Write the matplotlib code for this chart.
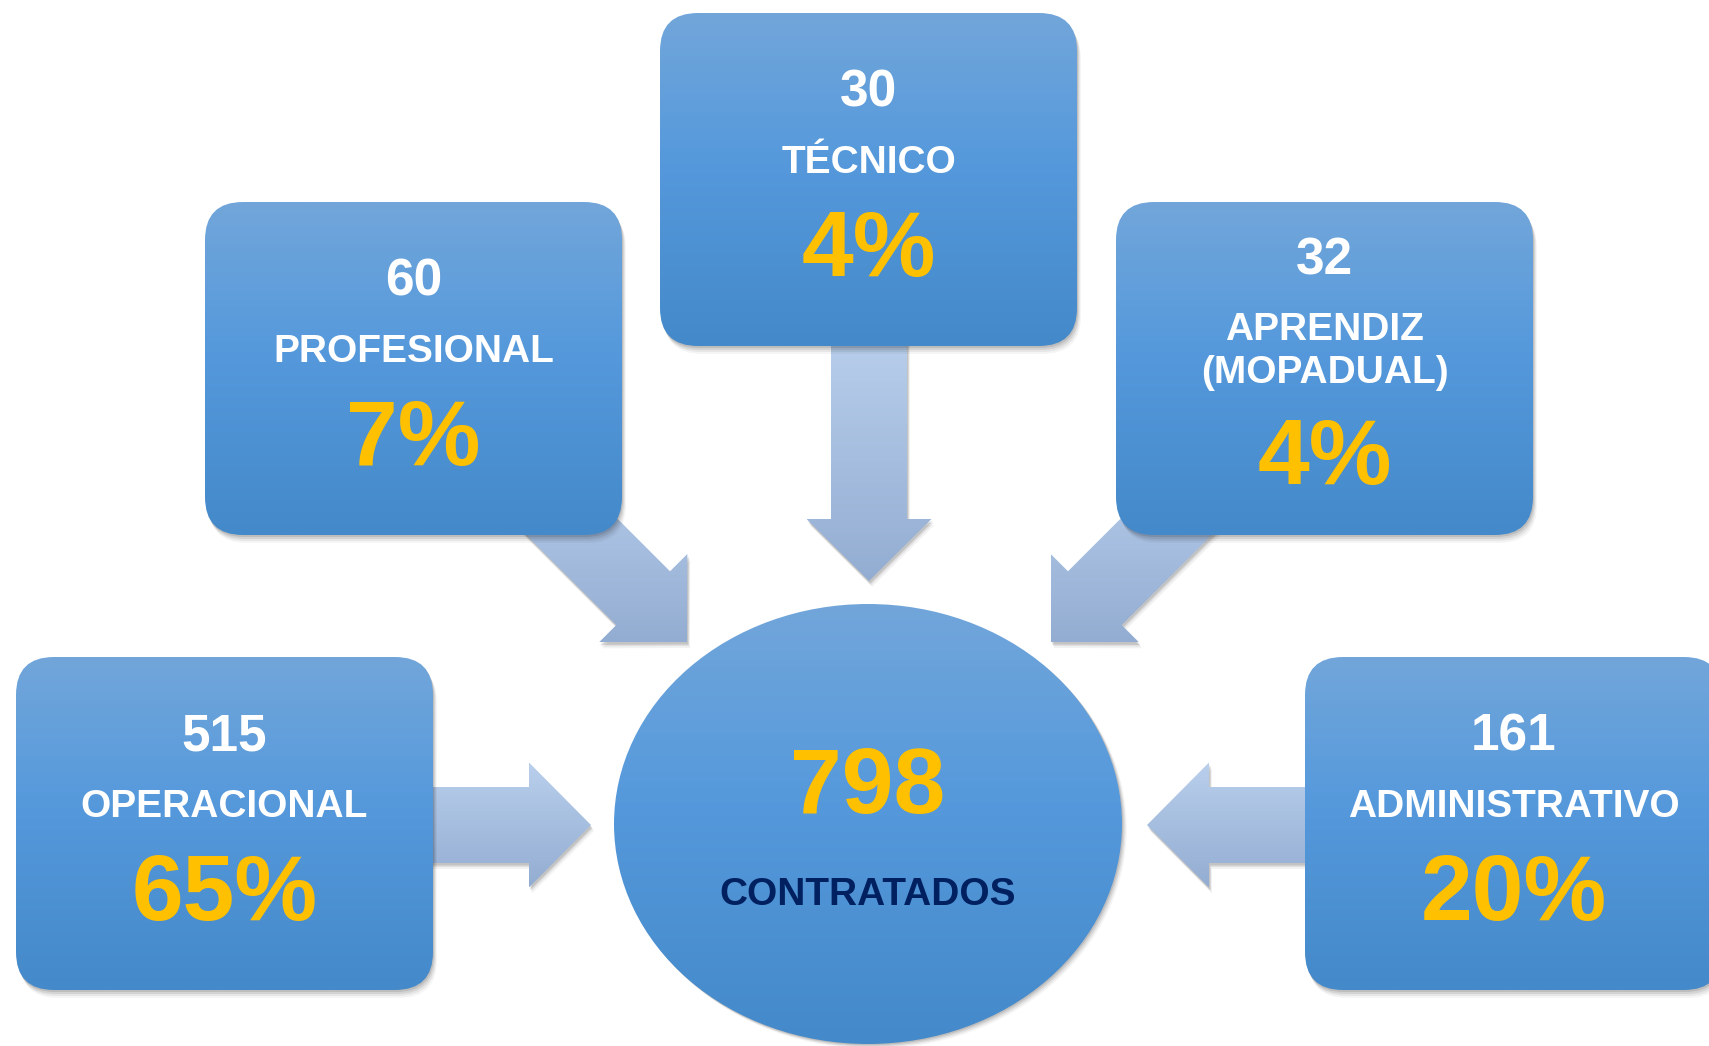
import numpy as np
import matplotlib
matplotlib.use('Agg')
import matplotlib.pyplot as plt
from matplotlib.patches import FancyBboxPatch, Ellipse, Polygon
from matplotlib.colors import to_rgb

plt.rcParams['font.family'] = ['Liberation Sans', 'DejaVu Sans']

# data
categories = ['OPERACIONAL', 'PROFESIONAL', 'TÉCNICO', 'APRENDIZ\n(MOPADUAL)', 'ADMINISTRATIVO']
counts = [515, 60, 30, 32, 161]
percents = [65, 7, 4, 4, 20]
total = 798
total_label = 'CONTRATADOS'

# layout (pixels, y down)
W, H = 1709, 1046
box_w, box_h = 417, 333
box_pos = [(16, 657), (205, 202), (660, 13), (1116, 202), (1305, 657)]
circ_c, circ_w, circ_h = (868, 824), 508, 440
# arrows: tail, tip
arrows = [((420, 825), (591, 825)),
          ((520, 475), (687, 642)),
          ((869, 330), (869, 581)),
          ((1218, 475), (1051, 642)),
          ((1320, 825), (1147, 825))]

BOX_STOPS = [(0.0, '#72a6da'), (0.45, '#5599dc'), (1.0, '#4489c9')]
ARR_STOPS = [(0.0, '#b9cfec'), (1.0, '#93add2')]
YELLOW = '#ffc000'
NAVY = '#002060'


def gradient(stops, n=256):
    t = np.linspace(0, 1, n)
    cols = np.zeros((n, 1, 3))
    pos = [s[0] for s in stops]
    rgb = np.array([to_rgb(s[1]) for s in stops])
    for k in range(3):
        cols[:, 0, k] = np.interp(t, pos, rgb[:, k])
    return cols


def grad_fill(ax, patch, bbox, stops, z):
    x0, y0, x1, y1 = bbox
    patch.set_facecolor('none')
    patch.set_edgecolor('none')
    ax.add_patch(patch)
    im = ax.imshow(gradient(stops), extent=[x0, x1, y1, y0], origin='upper',
                   aspect='auto', interpolation='bilinear', zorder=z)
    im.set_clip_path(patch)


def arrow_pts(tail, tip, sw=76, hw=125, hl=62):
    tail, tip = np.array(tail, float), np.array(tip, float)
    d = (tip - tail) / np.linalg.norm(tip - tail)
    n = np.array([-d[1], d[0]])
    base = tip - d * hl
    return np.array([tail + n * sw / 2, base + n * sw / 2, base + n * hw / 2, tip,
                     base - n * hw / 2, base - n * sw / 2, tail - n * sw / 2])


def label(ax, x, yc, txt, fs, color):
    # place text so that its cap height is centred on yc
    cap = 0.716 * fs * 100 / 72
    ax.text(x, yc + cap / 2, txt, ha='center', va='baseline', fontsize=fs,
            fontweight='bold', color=color, zorder=6)


fig = plt.figure(figsize=(W / 100, H / 100), dpi=100)
ax = fig.add_axes([0, 0, 1, 1])
ax.set_xlim(0, W)
ax.set_ylim(H, 0)
ax.axis('off')

# arrows
for tail, tip in arrows:
    pts = arrow_pts(tail, tip)
    for k, a in [(6, 0.05), (4, 0.08), (2.5, 0.12)]:
        ax.add_patch(Polygon(pts + [k * 0.5, k], closed=True, color='black', alpha=a,
                             lw=0, zorder=1))
    bb = (pts[:, 0].min(), pts[:, 1].min(), pts[:, 0].max(), pts[:, 1].max())
    grad_fill(ax, Polygon(pts, closed=True), bb, ARR_STOPS, 2)

# boxes
rs = 38
for i, (x, y) in enumerate(box_pos):
    for k, a in [(8, 0.04), (6, 0.06), (4, 0.08), (2, 0.1)]:
        ax.add_patch(FancyBboxPatch((x + k * 0.5, y + k), box_w, box_h,
                                    boxstyle=f'round,pad=0,rounding_size={rs}',
                                    color='black', alpha=a, lw=0, zorder=3))
    p = FancyBboxPatch((x, y), box_w, box_h, boxstyle=f'round,pad=0,rounding_size={rs}')
    grad_fill(ax, p, (x, y, x + box_w, y + box_h), BOX_STOPS, 4)

    cx = x + box_w / 2
    lines = categories[i].split('\n')
    if len(lines) == 1:
        y_num, y_lab, y_pct = y + 75, [y + 146], y + 230
    else:
        y_num, y_lab, y_pct = y + 54, [y + 124, y + 167], y + 249
    label(ax, cx, y_num, str(counts[i]), 37, 'white')
    for ly, txt in zip(y_lab, lines):
        label(ax, cx, ly, txt, 28, 'white')
    label(ax, cx, y_pct, f'{percents[i]}%', 67, YELLOW)

# central circle
for k, a in [(8, 0.04), (6, 0.06), (4, 0.08), (2, 0.1)]:
    ax.add_patch(Ellipse((circ_c[0] + k * 0.6, circ_c[1] + k * 0.6), circ_w, circ_h,
                         color='black', alpha=a, lw=0, zorder=3))
e = Ellipse(circ_c, circ_w, circ_h)
grad_fill(ax, e, (circ_c[0] - circ_w / 2, circ_c[1] - circ_h / 2,
                  circ_c[0] + circ_w / 2, circ_c[1] + circ_h / 2), BOX_STOPS, 4)
label(ax, circ_c[0], circ_c[1] - 44, str(total), 67, YELLOW)
label(ax, circ_c[0], circ_c[1] + 67, total_label, 28, NAVY)

ax.set_xlim(0, W)
ax.set_ylim(H, 0)
fig.savefig('out.png', dpi=100)
